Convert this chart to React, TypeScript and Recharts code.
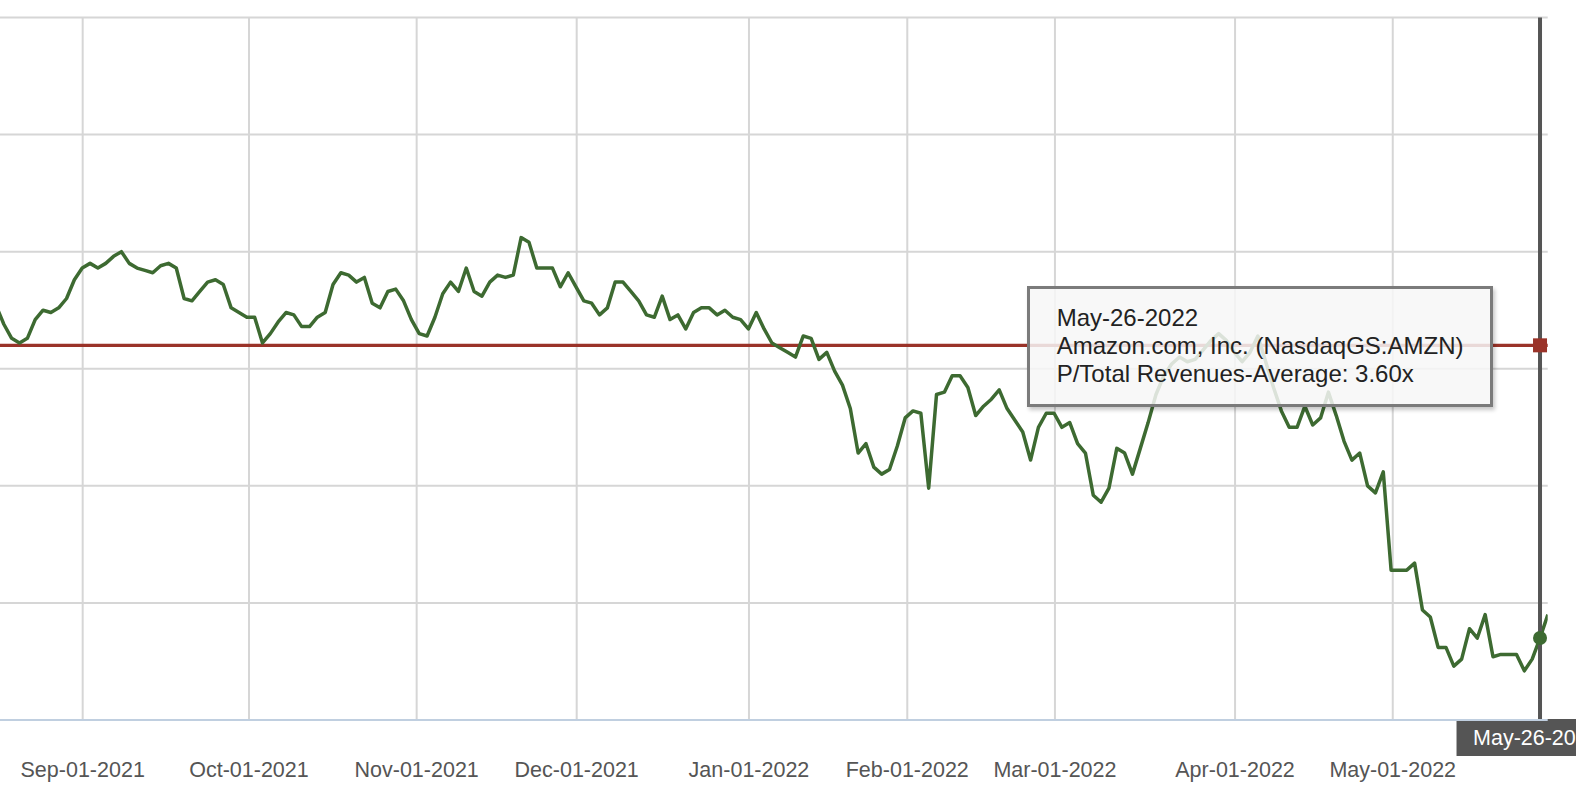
import React from "react";
import {
  LineChart,
  Line,
  XAxis,
  YAxis,
  CartesianGrid,
  ReferenceLine,
  ReferenceDot,
} from "recharts";

// one value per trading day, first point is 11 days before Sep-01-2021
const FIRST_INDEX = -11;
const PS_VALUES = [
  3.77, 3.69, 3.63, 3.61, 3.63, 3.71, 3.75, 3.74, 3.76, 3.8, 3.88,
  3.93, 3.95, 3.93, 3.95, 3.98, 4.0, 3.95, 3.93, 3.92, 3.91,
  3.94, 3.95, 3.93, 3.8, 3.79, 3.83, 3.87, 3.88, 3.86, 3.76,
  3.74, 3.72, 3.72, 3.61, 3.65, 3.7, 3.74, 3.73, 3.68, 3.68,
  3.72, 3.74, 3.86, 3.91, 3.9, 3.87, 3.89, 3.78, 3.76, 3.83, 3.84,
  3.79, 3.71, 3.65, 3.64, 3.72, 3.82, 3.87, 3.83, 3.93, 3.83,
  3.81, 3.87, 3.9, 3.89, 3.9, 4.06, 4.04, 3.93, 3.93, 3.93,
  3.85, 3.91, 3.85, 3.79, 3.78, 3.73, 3.76, 3.87, 3.87, 3.83,
  3.79, 3.73, 3.72, 3.81, 3.71, 3.73, 3.67, 3.74, 3.76, 3.76,
  3.73, 3.75, 3.72, 3.71, 3.67, 3.74, 3.67, 3.61, 3.59, 3.57, 3.55,
  3.64, 3.63, 3.54, 3.57, 3.49, 3.43, 3.33, 3.14, 3.18, 3.08,
  3.05, 3.07, 3.17, 3.29, 3.32, 3.31, 2.99, 3.39, 3.4, 3.47,
  3.47, 3.42, 3.3, 3.34, 3.37, 3.41, 3.33, 3.28, 3.23, 3.11,
  3.25, 3.31, 3.31, 3.25, 3.27, 3.18, 3.14, 2.96, 2.93, 2.99,
  3.16, 3.14, 3.05, 3.16, 3.27, 3.39, 3.47, 3.52, 3.55, 3.53, 3.54,
  3.58, 3.62, 3.65, 3.62, 3.57, 3.53, 3.57, 3.64, 3.53, 3.42,
  3.32, 3.25, 3.25, 3.34, 3.26, 3.29, 3.4, 3.3, 3.19, 3.11,
  3.14, 3.0, 2.97, 3.06, 2.64, 2.64, 2.64, 2.67, 2.47, 2.44,
  2.31, 2.31, 2.23, 2.26, 2.39, 2.35, 2.45, 2.27, 2.28, 2.28,
  2.28, 2.21, 2.26, 2.35, 2.45,
];

const AVERAGE = 3.6;

const MONTH_TICKS = [0.06, 21.28, 42.67, 63.09, 85.07, 105.27, 124.11, 147.09, 167.21];
const MONTH_LABELS = [
  "Sep-01-2021",
  "Oct-01-2021",
  "Nov-01-2021",
  "Dec-01-2021",
  "Jan-01-2022",
  "Feb-01-2022",
  "Mar-01-2022",
  "Apr-01-2022",
  "May-01-2022",
];
const Y_TICKS = [2, 2.5, 3, 3.5, 4, 4.5, 5];

const HOVER_INDEX = 186;
const HOVER_DATE = "May-26-2022";
const COMPANY = "Amazon.com, Inc. (NasdaqGS:AMZN)";
const METRIC = "P/Total Revenues-Average";

const data = PS_VALUES.map((v, k) => ({ i: FIRST_INDEX + k, v }));
const hoverValue = PS_VALUES[HOVER_INDEX - FIRST_INDEX];

const FONT = '"Liberation Sans", Arial, Helvetica, sans-serif';
const GREEN = "#3d6a31";
const RED = "#9a3329";
const GRID = "#d6d6d6";

function CrosshairLabel({ viewBox }: any) {
  const x = viewBox.x;
  const bottom = viewBox.y + viewBox.height;
  return (
    <g>
      <rect x={x - 83.5} y={bottom - 1} width={167} height={37} fill="#555555" />
      <text x={x - 67} y={bottom + 25} fill="#ffffff" fontSize={21.5} fontFamily={FONT}>
        {HOVER_DATE}
      </text>
    </g>
  );
}

function SquareMarker({ cx, cy }: any) {
  return <rect x={cx - 7} y={cy - 7} width={14} height={14} fill={RED} />;
}

export default function App() {
  return (
    <div
      style={{
        position: "absolute",
        left: 0,
        top: 0,
        width: 1576,
        height: 798,
        overflow: "hidden",
        background: "#fff",
        fontFamily: FONT,
      }}
    >
      <LineChart
        width={1576}
        height={798}
        data={data}
        margin={{ top: 17.5, right: 28.3, left: 0, bottom: 30 }}
      >
        <CartesianGrid stroke={GRID} strokeWidth={2} vertical={false} />

        {/* month grid lines */}
        {MONTH_TICKS.map((t) => (
          <ReferenceLine key={t} x={t} stroke={GRID} strokeWidth={2} />
        ))}

        <XAxis
          type="number"
          dataKey="i"
          domain={[-10.49, 186.98]}
          allowDataOverflow
          ticks={MONTH_TICKS}
          interval={0}
          tickFormatter={(t) => MONTH_LABELS[MONTH_TICKS.indexOf(t)]}
          tickLine={false}
          tickSize={0}
          tickMargin={42}
          height={48}
          axisLine={{ stroke: "#c0cfe0", strokeWidth: 2 }}
          tick={{ fill: "#555555", fontSize: 21.5, fontFamily: FONT }}
        />

        <YAxis
          hide
          type="number"
          domain={[2, 5]}
          ticks={Y_TICKS}
          allowDataOverflow
        />

        <ReferenceLine y={AVERAGE} stroke={RED} strokeWidth={3.2} />

        <Line
          type="linear"
          dataKey="v"
          stroke={GREEN}
          strokeWidth={3.5}
          strokeLinejoin="round"
          dot={false}
          activeDot={false}
          isAnimationActive={false}
        />

        <ReferenceLine
          x={HOVER_INDEX}
          stroke="#555555"
          strokeWidth={4}
          label={(props: any) => <CrosshairLabel {...props} />}
        />

        <ReferenceDot x={HOVER_INDEX} y={AVERAGE} r={7} shape={(p: any) => <SquareMarker {...p} />} />
        <ReferenceDot x={HOVER_INDEX} y={hoverValue} r={7} fill={GREEN} stroke="none" />
      </LineChart>

      {/* hover tooltip */}
      <div
        style={{
          position: "absolute",
          left: 1026.7,
          top: 286,
          width: 466,
          height: 120.7,
          boxSizing: "border-box",
          border: "3px solid #7b7b7b",
          background: "rgba(247,247,247,0.85)",
          boxShadow: "2px 3px 4px rgba(0,0,0,0.22)",
          padding: "15px 0 0 27px",
          fontSize: 24,
          lineHeight: "28px",
          color: "#222222",
          whiteSpace: "nowrap",
        }}
      >
        <div>{HOVER_DATE}</div>
        <div>{COMPANY}</div>
        <div>
          {METRIC}: {AVERAGE.toFixed(2)}x
        </div>
      </div>
    </div>
  );
}
